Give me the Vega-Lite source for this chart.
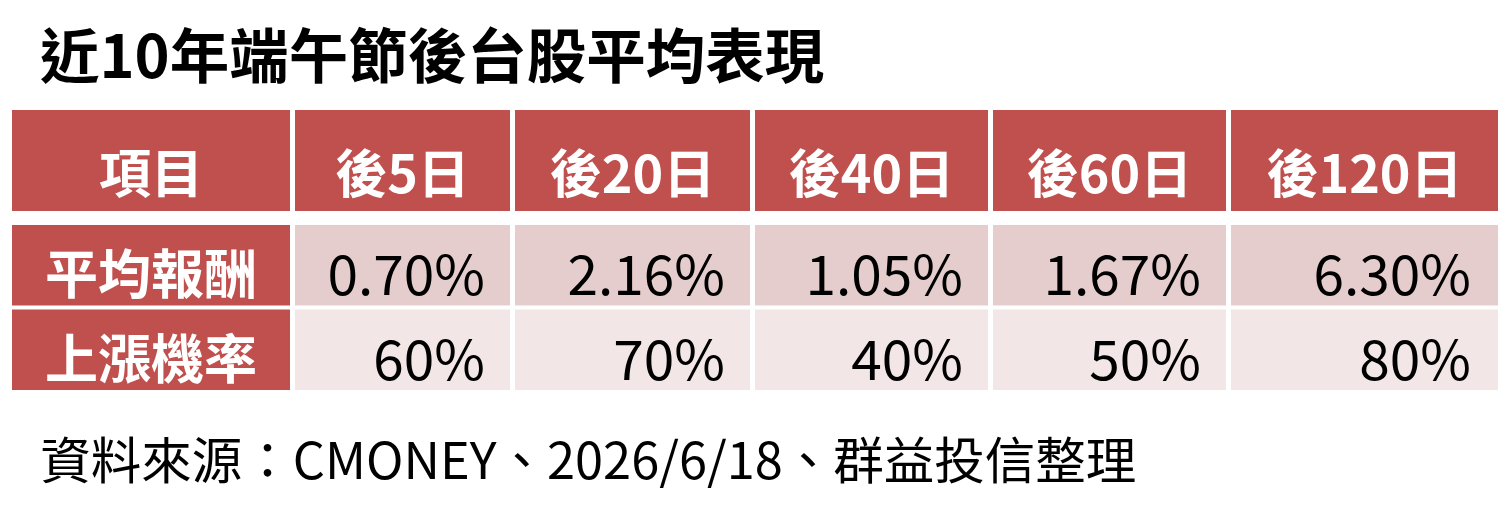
{
  "$schema": "https://vega.github.io/schema/vega-lite/v6.json",
  "padding": {"left": 12, "top": 30, "right": 12, "bottom": 0},
  "background": "#ffffff",
  "bounds": "flush",
  "title": {"text": "近10年端午節後台股平均表現", "anchor": "start", "dx": 28, "fontSize": 59.5, "fontWeight": "bold", "color": "#000000", "offset": 19.5, "font": "Noto Sans CJK TC"},
  "data": {"values": [
    {"c": 0, "r": 0, "t": "項目"}, {"c": 1, "r": 0, "t": "後5日"}, {"c": 2, "r": 0, "t": "後20日"}, {"c": 3, "r": 0, "t": "後40日"}, {"c": 4, "r": 0, "t": "後60日"}, {"c": 5, "r": 0, "t": "後120日"},
    {"c": 0, "r": 1, "t": "平均報酬"}, {"c": 1, "r": 1, "t": "0.70%"}, {"c": 2, "r": 1, "t": "2.16%"}, {"c": 3, "r": 1, "t": "1.05%"}, {"c": 4, "r": 1, "t": "1.67%"}, {"c": 5, "r": 1, "t": "6.30%"},
    {"c": 0, "r": 2, "t": "上漲機率"}, {"c": 1, "r": 2, "t": "60%"}, {"c": 2, "r": 2, "t": "70%"}, {"c": 3, "r": 2, "t": "40%"}, {"c": 4, "r": 2, "t": "50%"}, {"c": 5, "r": 2, "t": "80%"},
    {"c": 0, "r": 3, "t": "資料來源：CMONEY、2026/6/18、群益投信整理"}
  ]},
  "columns": 6,
  "spacing": {"row": 14, "column": 5},
  "concat": [
    {"width": 278, "height": 101, "transform": [{"filter": "datum.r == 0 && datum.c == 0"}],
     "encoding": {"x": {"field": "c", "type": "nominal", "axis": null, "scale": {"padding": 0}}, "y": {"field": "r", "type": "nominal", "axis": null, "scale": {"padding": 0}}},
     "layer": [{"mark": {"type": "rect", "color": "#C0504D"}}, {"mark": {"type": "text", "color": "#ffffff", "fontSize": 52, "fontWeight": "bold", "dy": 16}, "encoding": {"text": {"field": "t", "type": "nominal"}}}]},
    {"width": 215, "height": 101, "transform": [{"filter": "datum.r == 0 && datum.c == 1"}],
     "encoding": {"x": {"field": "c", "type": "nominal", "axis": null, "scale": {"padding": 0}}, "y": {"field": "r", "type": "nominal", "axis": null, "scale": {"padding": 0}}},
     "layer": [{"mark": {"type": "rect", "color": "#C0504D"}}, {"mark": {"type": "text", "color": "#ffffff", "fontSize": 52, "fontWeight": "bold", "dy": 16}, "encoding": {"text": {"field": "t", "type": "nominal"}}}]},
    {"width": 235, "height": 101, "transform": [{"filter": "datum.r == 0 && datum.c == 2"}],
     "encoding": {"x": {"field": "c", "type": "nominal", "axis": null, "scale": {"padding": 0}}, "y": {"field": "r", "type": "nominal", "axis": null, "scale": {"padding": 0}}},
     "layer": [{"mark": {"type": "rect", "color": "#C0504D"}}, {"mark": {"type": "text", "color": "#ffffff", "fontSize": 52, "fontWeight": "bold", "dy": 16}, "encoding": {"text": {"field": "t", "type": "nominal"}}}]},
    {"width": 233, "height": 101, "transform": [{"filter": "datum.r == 0 && datum.c == 3"}],
     "encoding": {"x": {"field": "c", "type": "nominal", "axis": null, "scale": {"padding": 0}}, "y": {"field": "r", "type": "nominal", "axis": null, "scale": {"padding": 0}}},
     "layer": [{"mark": {"type": "rect", "color": "#C0504D"}}, {"mark": {"type": "text", "color": "#ffffff", "fontSize": 52, "fontWeight": "bold", "dy": 16}, "encoding": {"text": {"field": "t", "type": "nominal"}}}]},
    {"width": 233, "height": 101, "transform": [{"filter": "datum.r == 0 && datum.c == 4"}],
     "encoding": {"x": {"field": "c", "type": "nominal", "axis": null, "scale": {"padding": 0}}, "y": {"field": "r", "type": "nominal", "axis": null, "scale": {"padding": 0}}},
     "layer": [{"mark": {"type": "rect", "color": "#C0504D"}}, {"mark": {"type": "text", "color": "#ffffff", "fontSize": 52, "fontWeight": "bold", "dy": 16}, "encoding": {"text": {"field": "t", "type": "nominal"}}}]},
    {"width": 267, "height": 101, "transform": [{"filter": "datum.r == 0 && datum.c == 5"}],
     "encoding": {"x": {"field": "c", "type": "nominal", "axis": null, "scale": {"padding": 0}}, "y": {"field": "r", "type": "nominal", "axis": null, "scale": {"padding": 0}}},
     "layer": [{"mark": {"type": "rect", "color": "#C0504D"}}, {"mark": {"type": "text", "color": "#ffffff", "fontSize": 52, "fontWeight": "bold", "dy": 16}, "encoding": {"text": {"field": "t", "type": "nominal"}}}]},

    {"width": 278, "height": 165, "transform": [{"filter": "datum.r >= 1 && datum.r <= 2 && datum.c == 0"}],
     "encoding": {"x": {"field": "c", "type": "nominal", "axis": null, "scale": {"padding": 0}}, "y": {"field": "r", "type": "nominal", "axis": null, "scale": {"paddingInner": 0.0473, "paddingOuter": 0}}},
     "layer": [{"mark": {"type": "rect", "color": "#C0504D"}}, {"mark": {"type": "text", "color": "#ffffff", "fontSize": 53, "fontWeight": "bold", "dy": 13}, "encoding": {"text": {"field": "t", "type": "nominal"}}}]},
    {"width": 215, "height": 165, "transform": [{"filter": "datum.r >= 1 && datum.r <= 2 && datum.c == 1"}],
     "encoding": {"x": {"field": "c", "type": "nominal", "axis": null, "scale": {"padding": 0}}, "y": {"field": "r", "type": "nominal", "axis": null, "scale": {"paddingInner": 0.0473, "paddingOuter": 0}}},
     "layer": [{"mark": {"type": "rect"}, "encoding": {"color": {"field": "r", "type": "nominal", "scale": {"domain": [1, 2], "range": ["#E6CDCD", "#F2E6E6"]}, "legend": null}}},
               {"mark": {"type": "text", "color": "#000000", "fontSize": 55, "align": "right", "dx": -25, "dy": 13}, "encoding": {"x": {"field": "c", "type": "nominal", "axis": null, "bandPosition": 1}, "text": {"field": "t", "type": "nominal"}}}]},
    {"width": 235, "height": 165, "transform": [{"filter": "datum.r >= 1 && datum.r <= 2 && datum.c == 2"}],
     "encoding": {"x": {"field": "c", "type": "nominal", "axis": null, "scale": {"padding": 0}}, "y": {"field": "r", "type": "nominal", "axis": null, "scale": {"paddingInner": 0.0473, "paddingOuter": 0}}},
     "layer": [{"mark": {"type": "rect"}, "encoding": {"color": {"field": "r", "type": "nominal", "scale": {"domain": [1, 2], "range": ["#E6CDCD", "#F2E6E6"]}, "legend": null}}},
               {"mark": {"type": "text", "color": "#000000", "fontSize": 55, "align": "right", "dx": -25, "dy": 13}, "encoding": {"x": {"field": "c", "type": "nominal", "axis": null, "bandPosition": 1}, "text": {"field": "t", "type": "nominal"}}}]},
    {"width": 233, "height": 165, "transform": [{"filter": "datum.r >= 1 && datum.r <= 2 && datum.c == 3"}],
     "encoding": {"x": {"field": "c", "type": "nominal", "axis": null, "scale": {"padding": 0}}, "y": {"field": "r", "type": "nominal", "axis": null, "scale": {"paddingInner": 0.0473, "paddingOuter": 0}}},
     "layer": [{"mark": {"type": "rect"}, "encoding": {"color": {"field": "r", "type": "nominal", "scale": {"domain": [1, 2], "range": ["#E6CDCD", "#F2E6E6"]}, "legend": null}}},
               {"mark": {"type": "text", "color": "#000000", "fontSize": 55, "align": "right", "dx": -25, "dy": 13}, "encoding": {"x": {"field": "c", "type": "nominal", "axis": null, "bandPosition": 1}, "text": {"field": "t", "type": "nominal"}}}]},
    {"width": 233, "height": 165, "transform": [{"filter": "datum.r >= 1 && datum.r <= 2 && datum.c == 4"}],
     "encoding": {"x": {"field": "c", "type": "nominal", "axis": null, "scale": {"padding": 0}}, "y": {"field": "r", "type": "nominal", "axis": null, "scale": {"paddingInner": 0.0473, "paddingOuter": 0}}},
     "layer": [{"mark": {"type": "rect"}, "encoding": {"color": {"field": "r", "type": "nominal", "scale": {"domain": [1, 2], "range": ["#E6CDCD", "#F2E6E6"]}, "legend": null}}},
               {"mark": {"type": "text", "color": "#000000", "fontSize": 55, "align": "right", "dx": -25, "dy": 13}, "encoding": {"x": {"field": "c", "type": "nominal", "axis": null, "bandPosition": 1}, "text": {"field": "t", "type": "nominal"}}}]},
    {"width": 267, "height": 165, "transform": [{"filter": "datum.r >= 1 && datum.r <= 2 && datum.c == 5"}],
     "encoding": {"x": {"field": "c", "type": "nominal", "axis": null, "scale": {"padding": 0}}, "y": {"field": "r", "type": "nominal", "axis": null, "scale": {"paddingInner": 0.0473, "paddingOuter": 0}}},
     "layer": [{"mark": {"type": "rect"}, "encoding": {"color": {"field": "r", "type": "nominal", "scale": {"domain": [1, 2], "range": ["#E6CDCD", "#F2E6E6"]}, "legend": null}}},
               {"mark": {"type": "text", "color": "#000000", "fontSize": 55, "align": "right", "dx": -27, "dy": 13}, "encoding": {"x": {"field": "c", "type": "nominal", "axis": null, "bandPosition": 1}, "text": {"field": "t", "type": "nominal"}}}]},

    {"width": 278, "height": 112, "transform": [{"filter": "datum.r == 3"}],
     "mark": {"type": "text", "color": "#000000", "fontSize": 50.5, "align": "left", "dx": 28, "dy": 4},
     "encoding": {"x": {"field": "c", "type": "nominal", "axis": null, "scale": {"type": "band", "padding": 0}, "bandPosition": 0.001}, "text": {"field": "t", "type": "nominal"}}}
  ],
  "config": {"view": {"stroke": null}, "font": "Noto Sans CJK TC"}
}
